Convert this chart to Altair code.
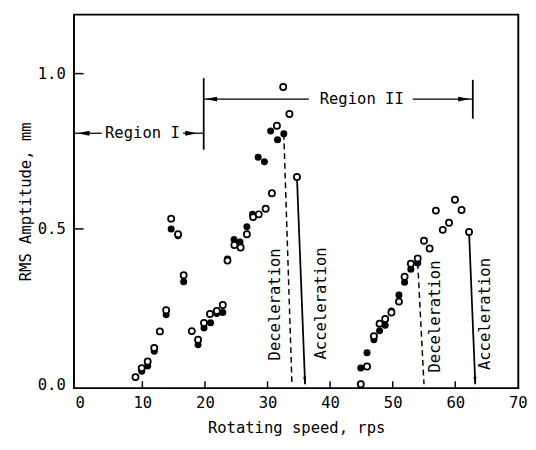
import altair as alt
import pandas as pd

FONT = "DejaVu Sans Mono"

# open circles
open_x = [8.9, 9.9, 10.85, 11.9, 12.8, 13.8, 14.6, 15.7, 16.6, 17.9, 18.9, 19.85, 20.8, 21.9, 22.85,
          23.6, 24.7, 25.7, 26.7, 27.7, 28.6, 29.7, 30.7, 31.5, 32.5, 33.5, 34.7,
          44.9, 45.9, 47.0, 47.9, 48.8, 49.8, 51.0, 51.9, 52.9, 54.0, 55.0, 55.9, 56.9, 58.0,
          59.0, 59.95, 61.0, 62.2]
open_y = [0.023, 0.052, 0.073, 0.117, 0.170, 0.238, 0.533, 0.483, 0.351, 0.171, 0.143, 0.197, 0.226,
          0.236, 0.255, 0.398, 0.448, 0.440, 0.483, 0.538, 0.547, 0.565, 0.615, 0.832, 0.957, 0.870,
          0.667,
          0.0, 0.057, 0.155, 0.195, 0.210, 0.231, 0.266, 0.346, 0.388, 0.405, 0.462, 0.437, 0.559,
          0.497, 0.520, 0.594, 0.561, 0.490]

# filled circles
filled_x = [9.9, 10.85, 11.9, 13.8, 14.6, 15.7, 16.6, 18.9, 19.85, 20.9, 21.9, 22.85, 23.6, 24.65,
            25.6, 26.7, 27.6, 28.5, 29.5, 30.5, 31.6, 32.6,
            44.9, 45.9, 47.0, 47.9, 48.8, 49.8, 51.0, 51.9, 52.9, 54.0]
filled_y = [0.042, 0.059, 0.106, 0.224, 0.500, 0.478, 0.330, 0.127, 0.181, 0.198, 0.228, 0.231,
            0.403, 0.466, 0.458, 0.507, 0.547, 0.731, 0.716, 0.815, 0.787, 0.806,
            0.052, 0.101, 0.143, 0.172, 0.190, 0.236, 0.287, 0.328, 0.370, 0.390]

# drop lines (start point -> axis)
dash_x = [32.6, 33.9, 54.0, 55.0]
dash_y = [0.806, 0.0, 0.390, 0.0]
dash_g = ["a", "a", "b", "b"]
solid_x = [34.7, 36.0, 62.2, 63.2]
solid_y = [0.667, 0.0, 0.490, 0.0]
solid_g = ["a", "a", "b", "b"]

# vertical labels
vlab_text = ["Deceleration", "Acceleration", "Deceleration", "Acceleration"]
vlab_x = [31.2, 38.6, 56.8, 64.8]
vlab_y = [0.257, 0.260, 0.218, 0.226]

# region bracket
hseg_x = [-0.9, 16.5, 19.8, 53.2]
hseg_x2 = [3.5, 19.8, 36.6, 62.8]
hseg_y = [0.808, 0.808, 0.918, 0.918]
vbar_x = [19.8, 62.8]
vbar_y = [0.755, 0.855]
vbar_y2 = [0.985, 0.980]
region_text = ["Region I", "Region II"]
region_x = [10.0, 45.05]
region_y = [0.808, 0.918]
arrow_x = [0.6, 17.8, 21.0, 61.4]
arrow_y = [0.808, 0.808, 0.918, 0.918]
arrow_dir = ["L", "R", "L", "R"]
down_x = [35.95, 63.15]
down_y = [0.012, 0.012]

xticks = [10, 20, 30, 40, 50, 60]
xlabels = [0, 10, 20, 30, 40, 50, 60, 70]
yticks = [0.5, 1.0]
ylabels = [0.0, 0.5, 1.0]

xs = alt.Scale(domain=[-0.93, 70.07], nice=False, zero=False)
ys = alt.Scale(domain=[-0.0125, 1.19], nice=False, zero=False)
xaxis = alt.Axis(values=xlabels, tickSize=0, domain=False, grid=False, labelFlush=False,
                 title="Rotating speed, rps", labelPadding=7, titlePadding=10)
yaxis = alt.Axis(values=ylabels, format=".1f", tickSize=0, domain=False, grid=False,
                 labelFlush=False, title="RMS Amptitude, mm", labelPadding=9, titlePadding=4)


def X(f="x"):
    return alt.X(f"{f}:Q", scale=xs, axis=xaxis)


def Y(f="y"):
    return alt.Y(f"{f}:Q", scale=ys, axis=yaxis)


df_open = pd.DataFrame({"x": open_x, "y": open_y})
df_fill = pd.DataFrame({"x": filled_x, "y": filled_y})
df_dash = pd.DataFrame({"x": dash_x, "y": dash_y, "g": dash_g})
df_solid = pd.DataFrame({"x": solid_x, "y": solid_y, "g": solid_g})
df_vlab = pd.DataFrame({"x": vlab_x, "y": vlab_y, "t": vlab_text})
df_hseg = pd.DataFrame({"x": hseg_x, "x2": hseg_x2, "y": hseg_y})
df_vbar = pd.DataFrame({"x": vbar_x, "y": vbar_y, "y2": vbar_y2})
df_reg = pd.DataFrame({"x": region_x, "y": region_y, "t": region_text})
df_arr = pd.DataFrame({"x": arrow_x, "y": arrow_y, "d": arrow_dir})
df_down = pd.DataFrame({"x": down_x, "y": down_y})
df_xt = pd.DataFrame({"x": xticks})
df_yt = pd.DataFrame({"y": yticks})

fill_layer = alt.Chart(df_fill).mark_point(shape="circle", filled=True, color="black", size=52,
                                           opacity=1).encode(x=X(), y=Y())
open_layer = alt.Chart(df_open).mark_point(shape="circle", fill="white", fillOpacity=1, stroke="black",
                                           strokeWidth=1.8, size=40, opacity=1).encode(x=X(), y=Y())
dash_layer = alt.Chart(df_dash).mark_line(color="black", strokeWidth=1.5, strokeDash=[6, 4]).encode(
    x=X(), y=Y(), detail="g:N")
solid_layer = alt.Chart(df_solid).mark_line(color="black", strokeWidth=1.8).encode(
    x=X(), y=Y(), detail="g:N")
vlab_layer = alt.Chart(df_vlab).mark_text(angle=270, font=FONT, fontSize=16, color="black").encode(
    x=X(), y=Y(), text="t:N")
hseg_layer = alt.Chart(df_hseg).mark_rule(color="black", strokeWidth=1.3).encode(
    x=X(), x2="x2:Q", y=Y())
vbar_layer = alt.Chart(df_vbar).mark_rule(color="black", strokeWidth=1.8).encode(
    x=X(), y=Y(), y2="y2:Q")
reg_layer = alt.Chart(df_reg).mark_text(font=FONT, fontSize=16, color="black").encode(
    x=X(), y=Y(), text="t:N")
arrL = alt.Chart(df_arr).transform_filter(alt.datum.d == "L").mark_point(
    shape="M-1,0L1,-0.4L1,0.4Z", filled=True, color="black", size=150, opacity=1).encode(x=X(), y=Y())
arrR = alt.Chart(df_arr).transform_filter(alt.datum.d == "R").mark_point(
    shape="M1,0L-1,-0.4L-1,0.4Z", filled=True, color="black", size=150, opacity=1).encode(x=X(), y=Y())
down_layer = alt.Chart(df_down).mark_point(shape="M0,1L-0.4,-1L0.4,-1Z", filled=True, color="black",
                                           size=60, opacity=1).encode(x=X(), y=Y())
xt_layer = alt.Chart(df_xt).mark_rule(color="black", strokeWidth=1.5).encode(
    x=X(), y=alt.value(385), y2=alt.value(378))
yt_layer = alt.Chart(df_yt).mark_rule(color="black", strokeWidth=1.5).encode(
    y=Y(), x=alt.value(0), x2=alt.value(10))

chart = alt.layer(
    xt_layer, yt_layer, hseg_layer, vbar_layer, arrL, arrR, dash_layer, solid_layer, down_layer,
    fill_layer, open_layer, vlab_layer, reg_layer
).properties(
    width=458, height=385,
    autosize=alt.AutoSizeParams(type="none"),
    padding={"left": 68, "top": 0, "right": 10, "bottom": 57},
).configure_view(
    stroke="black", strokeWidth=2
).configure_axis(
    labelFont=FONT, titleFont=FONT, labelFontSize=16, titleFontSize=16,
    labelColor="black", titleColor="black", titleFontWeight="normal"
)

chart.save("out.html", embed_options={"renderer": "svg", "actions": False})
